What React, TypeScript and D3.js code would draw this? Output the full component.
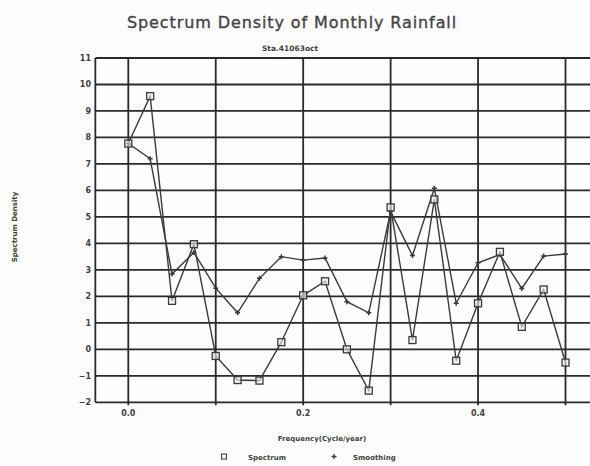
import React from "react";
import * as d3 from "d3";

const frequencies = [0, 0.025, 0.05, 0.075, 0.1, 0.125, 0.15, 0.175, 0.2, 0.225, 0.25, 0.275, 0.3, 0.325, 0.35, 0.375, 0.4, 0.425, 0.45, 0.475, 0.5];
const spectrum = [7.77, 9.56, 1.83, 3.97, -0.25, -1.16, -1.18, 0.27, 2.04, 2.57, 0.0, -1.56, 5.36, 0.35, 5.66, -0.43, 1.74, 3.68, 0.85, 2.26, -0.5];
const smoothing = [7.77, 7.2, 2.84, 3.66, 2.31, 1.38, 2.68, 3.5, 3.37, 3.45, 1.8, 1.38, 5.2, 3.54, 6.08, 1.74, 3.27, 3.58, 2.3, 3.52, 3.6];
const yTicks = [-2, -1, 0, 1, 2, 3, 4, 5, 6, 7, 8, 9, 10, 11];
const xGrid = [0, 0.1, 0.2, 0.3, 0.4, 0.5];
const xLabels = [0, 0.2, 0.4];

const W = 590, H = 466;
const x = d3.scaleLinear().domain([0, 0.5]).range([128.3, 565.5]);
const y = d3.scaleLinear().domain([-2, 11]).range([402.3, 58]);
const xMin = -0.0377, xMax = 0.54;

export default function App() {
  const line = d3.line<number>().x((_, i) => x(frequencies[i])).y(d => y(d));
  const gridColor = "#2a2a2a";
  const ink = "#3a3a3a";
  const font = "DejaVu Sans, sans-serif";
  const txt = "#404040";
  return (
    <svg width={W} height={H} style={{ position: "absolute", left: 0, top: 0, background: "#fdfdfd" }}>
      <text x={292} y={28} textAnchor="middle" fontFamily={font} fontSize={16} fill="#444" stroke="#444" strokeWidth={0.35} letterSpacing={0.9}>Spectrum Density of Monthly Rainfall</text>
      <text x={290} y={51} textAnchor="middle" fontFamily={font} fontSize={7.5} fontWeight="bold" fill={txt}>Sta.41063oct</text>
      {yTicks.map(t => (
        <line key={"h" + t} x1={x(xMin)} x2={x(xMax)} y1={y(t)} y2={y(t)} stroke={gridColor} strokeWidth={1.8} />
      ))}
      <line x1={x(xMin)} x2={x(xMin)} y1={y(11)} y2={y(-2)} stroke={gridColor} strokeWidth={1.8} />
      {xGrid.map(t => (
        <line key={"v" + t} x1={x(t)} x2={x(t)} y1={y(11)} y2={y(-2) + 3} stroke={gridColor} strokeWidth={1.8} />
      ))}
      {yTicks.map(t => (
        <text key={"yl" + t} x={91} y={y(t) + 3} textAnchor="end" fontFamily={font} fontSize={8} fontWeight="bold" fill={txt}>{t < 0 ? "\u2212" + Math.abs(t) : t}</text>
      ))}
      {xLabels.map(t => (
        <text key={"xl" + t} x={x(t)} y={416} textAnchor="middle" fontFamily={font} fontSize={8} fontWeight="bold" fill={txt}>{t.toFixed(1)}</text>
      ))}
      <text transform={`translate(17,227) rotate(-90)`} textAnchor="middle" fontFamily={font} fontSize={7} fontWeight="bold" fill={txt}>Spectrum Density</text>
      <text x={322} y={441} textAnchor="middle" fontFamily={font} fontSize={7} fontWeight="bold" fill={txt}>Frequency(Cycle/year)</text>
      <rect x={221.5} y={454} width={5} height={5} fill="none" stroke={txt} strokeWidth={1.1} />
      <text x={248} y={459.5} fontFamily={font} fontSize={7} fontWeight="bold" fill={txt}>Spectrum</text>
      <path d={`M331.5,456.5h5M334,454v5`} stroke={txt} strokeWidth={1.4} />
      <text x={353} y={459.5} fontFamily={font} fontSize={7} fontWeight="bold" fill={txt}>Smoothing</text>
      <path d={line(smoothing) || ""} fill="none" stroke={ink} strokeWidth={1.4} />
      <path d={line(spectrum) || ""} fill="none" stroke={ink} strokeWidth={1.4} />
      {smoothing.map((v, i) => (
        <path key={"sm" + i} d={`M${x(frequencies[i]) - 2.5},${y(v)}h5M${x(frequencies[i])},${y(v) - 2.5}v5`} stroke={ink} strokeWidth={1.5} />
      ))}
      {spectrum.map((v, i) => (
        <rect key={"sp" + i} x={x(frequencies[i]) - 3.5} y={y(v) - 3.5} width={7} height={7} fill="#eee" fillOpacity={0.6} stroke={ink} strokeWidth={1.3} />
      ))}
    </svg>
  );
}
